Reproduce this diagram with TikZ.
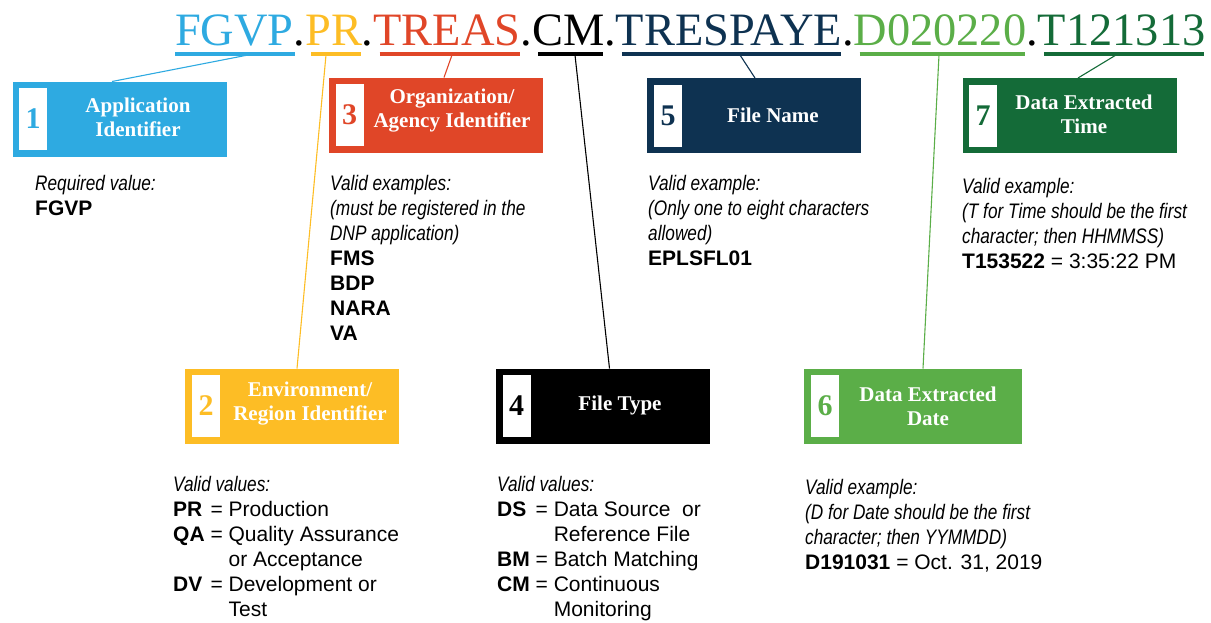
\documentclass[tikz,border=0pt]{standalone}
\usepackage{fontspec}
\setmainfont{Liberation Serif}
\setsansfont{Liberation Sans}
\newfontfamily\bodyfont{Liberation Sans}
\newfontfamily\condit{Liberation Sans}[FakeStretch=0.82]
\usetikzlibrary{calc}
\definecolor{cblue}{HTML}{2EAAE1}
\definecolor{cyellow}{HTML}{FDBD25}
\definecolor{cred}{HTML}{E04628}
\definecolor{cnavy}{HTML}{0E3251}
\definecolor{clgreen}{HTML}{5BAE48}
\definecolor{cdgreen}{HTML}{146B38}
\newcommand{\vlab}[1]{{\condit\itshape #1}}
\newcommand{\blk}[1]{\begin{tabular}[t]{@{}l@{}}#1\end{tabular}}
\begin{document}
\begin{tikzpicture}[x=1pt,y=-1pt,
  seg/.style={inner sep=0pt, outer sep=0pt, anchor=base west, font=\fontsize{46.4}{46.4}\selectfont},
  uline/.style={line width=4pt},
  conn/.style={line width=1.1pt},
  box/.style={minimum width=214pt, minimum height=75pt, inner sep=0pt, outer sep=0pt},
  numsq/.style={fill=white, minimum width=28pt, minimum height=62pt, inner sep=0pt, font=\fontsize{30}{30}\selectfont\bfseries},
  lbl/.style={text=white, font=\fontsize{21}{24}\selectfont\bfseries, align=center, inner sep=0pt},
  desc/.style={anchor=base west, inner sep=0pt, font=\bodyfont\fontsize{21}{25}\selectfont}]
\useasboundingbox (0,0) rectangle (1211,622);
% title
\node[seg, text=cblue] (t1) at (175,45) {FGVP};
\node[seg] (d1) at (t1.base east) {.};
\node[seg, text=cyellow] (t2) at (d1.base east) {PR};
\node[seg] (d2) at (t2.base east) {.};
\node[seg, text=cred] (t3) at (d2.base east) {TREAS};
\node[seg] (d3) at (t3.base east) {.};
\node[seg, text=black] (t4) at (d3.base east) {CM};
\node[seg] (d4) at (t4.base east) {.};
\node[seg, text=cnavy] (t5) at (d4.base east) {TRESPAYE};
\node[seg] (d5) at (t5.base east) {.};
\node[seg, text=clgreen] (t6) at (d5.base east) {D020220};
\node[seg] (d6) at (t6.base east) {.};
\node[seg, text=cdgreen] (t7) at (d6.base east) {T121313};
% underlines
\draw[uline,cblue] ($(t1.base west)+(0,9)$) -- ($(t1.base east)+(1,9)$);
\foreach \i/\c in {2/cyellow,3/cred,4/black,5/cnavy,6/clgreen,7/cdgreen}{
  \draw[uline,\c] ($(t\i.base west)+(6,9)$) -- ($(t\i.base east)+(-1,9)$);
}
% boxes
\node[box, fill=cblue] (b1) at (119.5,119) {};
\node[numsq, text=cblue] (n1) at (33,118.5) {1};
\node[lbl] (l1) at (138,117) {Application\\Identifier};

\node[box, fill=cred] (b3) at (436,115) {};
\node[numsq, text=cred] (n3) at (349.5,115) {3};
\node[lbl] (l3) at (452,111) {Organization/\\Agency Identifier};

\node[box, fill=cnavy] (b5) at (753.5,115.5) {};
\node[numsq, text=cnavy] (n5) at (668,115.5) {5};
\node[lbl] (l5) at (773,115) {File Name};

\node[box, fill=cdgreen] (b7) at (1070,115.5) {};
\node[numsq, text=cdgreen] (n7) at (983,115.5) {7};
\node[lbl] (l7) at (1084,114.5) {Data Extracted\\Time};

\node[box, fill=cyellow] (b2) at (292,406) {};
\node[numsq, text=cyellow] (n2) at (206,406) {2};
\node[lbl] (l2) at (310,403.5) {Environment/\\Region Identifier};

\node[box, fill=black] (b4) at (602.5,406) {};
\node[numsq, text=black] (n4) at (516.5,406) {4};
\node[lbl] (l4) at (620,405) {File Type};

\node[box, fill=clgreen, minimum width=218pt] (b6) at (913,406) {};
\node[numsq, text=clgreen] (n6) at (825,406) {6};
\node[lbl] (l6) at (928,406.5) {Data Extracted\\Date};
% connector ends
\coordinate (u1) at (248,55); \coordinate (e1) at ($(b1.north west)+(99.5,0)$);
\coordinate (u2) at (326,55); \coordinate (e2) at ($(b2.north west)+(112,0)$);
\coordinate (u3) at (452,55); \coordinate (e3) at ($(b3.north west)+(115,0)$);
\coordinate (u4) at (575,55); \coordinate (e4) at ($(b4.north west)+(114,0)$);
\coordinate (u5) at (740,55); \coordinate (e5) at ($(b5.north west)+(108.5,0)$);
\coordinate (u6) at (939,55); \coordinate (e6) at ($(b6.north west)+(119,0)$);
\coordinate (u7) at (1116,55); \coordinate (e7) at ($(b7.north west)+(115,0)$);
\draw[conn,cblue] (u1) -- (e1);
\draw[conn,cyellow] (u2) -- (e2);
\draw[conn,cred] (u3) -- (e3);
\draw[conn,black] (u4) -- (e4);
\draw[conn,cnavy] (u5) -- (e5);
\draw[conn,clgreen] (u6) -- (e6);
\draw[conn,cdgreen] (u7) -- (e7);
% descriptions
\node[desc] (x1) at (35,190) {\blk{\vlab{Required value:}\\\textbf{FGVP}}};
\node[desc] (x3) at (330,190) {\blk{\vlab{Valid examples:}\\\vlab{(must be registered in the}\\\vlab{DNP application)}\\\textbf{FMS}\\\textbf{BDP}\\\textbf{NARA}\\\textbf{VA}}};
\node[desc] (x5) at (648,190) {\blk{\vlab{Valid example:}\\\vlab{(Only one to eight characters}\\\vlab{allowed)}\\\textbf{EPLSFL01}}};
\node[desc] (x7) at (962,193) {\blk{\vlab{Valid example:}\\\vlab{(T for Time should be the first}\\\vlab{character; then HHMMSS)}\\\textbf{T153522} = 3:35:22 PM}};
\node[desc] (x2) at (173,491) {\begin{tabular}[t]{@{}l@{\ }c@{\ }l@{}}
\multicolumn{3}{@{}l@{}}{\vlab{Valid values:}}\\
\textbf{PR} & = & Production\\
\textbf{QA} & = & Quality Assurance\\
 & & or Acceptance\\
\textbf{DV} & = & Development or\\
 & & Test
\end{tabular}};
\node[desc] (x4) at (497,491) {\begin{tabular}[t]{@{}l@{\ }c@{\ }l@{}}
\multicolumn{3}{@{}l@{}}{\vlab{Valid values:}}\\
\textbf{DS} & = & Data Source\ \ or\\
 & & Reference File\\
\textbf{BM} & = & Batch Matching\\
\textbf{CM} & = & Continuous\\
 & & Monitoring
\end{tabular}};
\node[desc] (x6) at (805,494) {\blk{\vlab{Valid example:}\\\vlab{(D for Date should be the first}\\\vlab{character; then YYMMDD)}\\\textbf{D191031} = Oct. 31, 2019}};
\end{tikzpicture}
\end{document}
